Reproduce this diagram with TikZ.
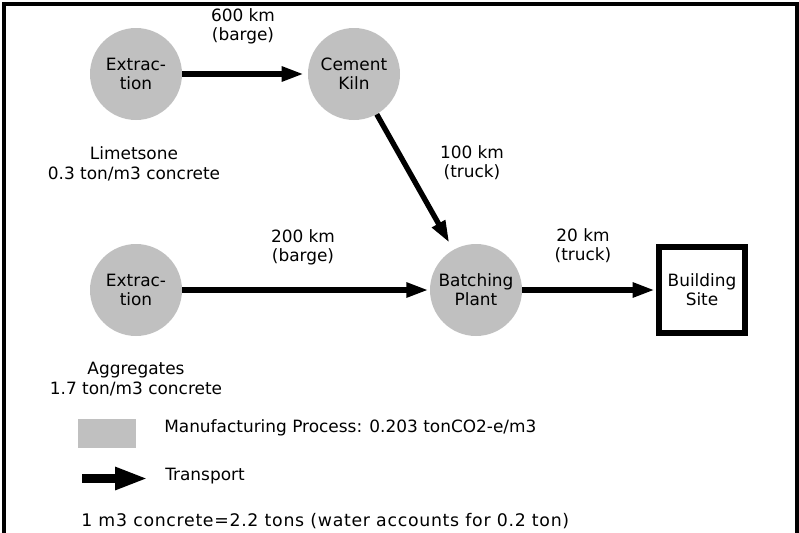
\documentclass[tikz,border=0pt]{standalone}
\usepackage{fontspec}
\setmainfont{DejaVu Sans}
\usetikzlibrary{arrows.meta,positioning}
\definecolor{procgray}{RGB}{192,192,192}

\begin{document}
\begin{tikzpicture}[x=0.75pt,y=-0.75pt,
  every node/.style={font=\fontsize{12.7}{14.5}\selectfont,align=center},
  process/.style={circle,fill=procgray,minimum size=69pt,inner sep=0pt},
  site/.style={draw,line width=4.5pt,minimum size=64.5pt,inner sep=0pt},
  transport/.style={-{Triangle[length=16.5pt,width=10.5pt]},line width=4pt}]
\useasboundingbox (0,0) rectangle (799,532);
\clip (0,0) rectangle (799,532);
\draw[line width=3pt] (4,545) -- (4,4) -- (797,4) -- (797,545); %frame

\node[process] (extlime) at (136,74) {Extrac-\\tion};
\node[process] (kiln) at (354,74) {Cement\\Kiln};
\node[process] (extagg) at (136,290) {Extrac-\\tion};
\node[process] (batch) at (476,290) {Batching\\Plant};
\node[site] (site) at (702,290) {Building\\Site};

\draw[transport,shorten >=3pt] (extlime) -- (kiln);
\draw[transport,shorten >=6pt] (kiln) -- (batch);
\draw[transport,shorten >=1pt] (extagg) -- (batch);
\draw[transport,shorten >=1pt] (batch) -- (site);

\node (lab600) at (243,26) {600 km\\(barge)};
\node (lab100) at (472,163) {100 km\\(truck)};
\node (lab200) at (303,247) {200 km\\(barge)};
\node (lab20) at (583,246) {20 km\\(truck)};
\node (limestone) at (134,164) {Limetsone\\0.3 ton/m3 concrete};
\node (aggregates) at (136,379) {Aggregates\\1.7 ton/m3 concrete};

% legend
\node[fill=procgray,minimum width=43.5pt,minimum height=21.75pt,inner sep=0pt] (legproc) at (107,433.5) {};
\node[anchor=west,inner sep=0pt] (legproctext) at (164,428) {Manufacturing Process: 0.203 tonCO2-e/m3};
\coordinate (legfrom) at (82,478.5);
\coordinate (legto) at (148,478.5);
\draw[-{Triangle[length=24.75pt,width=15.75pt]},line width=6.75pt] (legfrom) -- (legto);
\node[anchor=west,inner sep=0pt] (legtrans) at (165,476) {Transport};
\node[anchor=west,inner sep=0pt,font=\fontsize{13}{15}\selectfont\addfontfeature{LetterSpace=4}] (note) at (81,521) {1 m3 concrete=2.2 tons (water accounts for 0.2 ton)};
\end{tikzpicture}
\end{document}
